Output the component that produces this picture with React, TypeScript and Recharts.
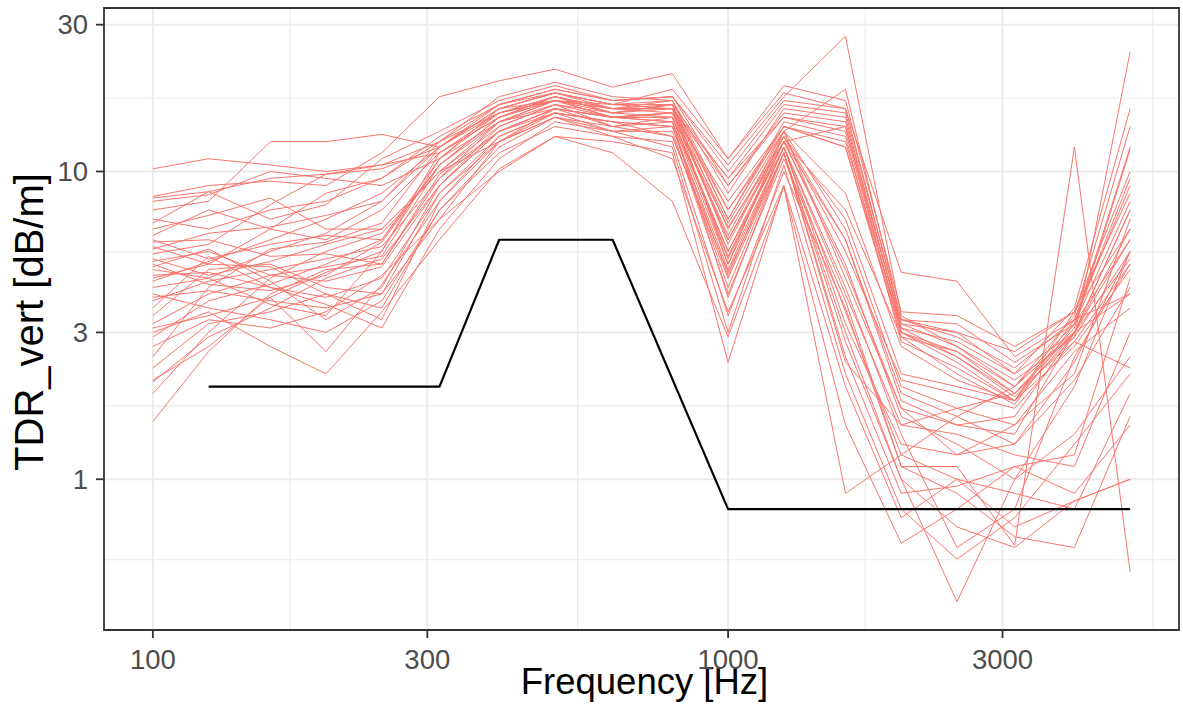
import React from 'react';
import { LineChart, Line, XAxis, YAxis, CartesianGrid, ReferenceArea } from 'recharts';

// Third-octave band centre frequencies [Hz]
const frequencies = [100, 125, 160, 200, 250, 315, 400, 500, 630, 800, 1000, 1250, 1600, 2000, 2500, 3150, 4000, 5000];

// Measured TDR_vert curves [dB/m] (one value per band)
const s01 = [10.2, 11.0, 10.5, 10.0, 10.5, 12.5, 15.5, 17.0, 15.5, 16.0, 9.5, 15.0, 13.5, 3.0, 2.6, 2.0, 3.0, 7.5];
const s02 = [8.2, 8.6, 9.5, 9.8, 10.2, 12.0, 16.0, 18.0, 16.5, 18.5, 11.0, 18.0, 16.0, 3.3, 2.9, 2.3, 3.3, 9.0];
const s03 = [8.0, 8.4, 10.0, 9.5, 9.0, 11.0, 14.5, 16.0, 15.0, 15.5, 8.0, 14.0, 12.5, 3.1, 2.5, 1.9, 3.0, 6.5];
const s04 = [6.8, 8.6, 7.0, 7.8, 11.0, 13.5, 17.0, 19.0, 17.0, 17.5, 10.5, 17.5, 27.5, 3.4, 2.7, 2.1, 2.9, 5.5];
const s05 = [6.2, 7.5, 6.5, 8.5, 9.5, 13.0, 16.5, 18.0, 16.0, 17.0, 7.5, 13.5, 18.5, 3.3, 3.2, 2.4, 3.2, 12.0];
const s06 = [5.7, 5.0, 6.5, 6.0, 7.5, 11.5, 15.0, 17.5, 15.5, 16.5, 6.5, 13.0, 5.5, 2.1, 1.9, 1.7, 2.8, 5.0];
const s07 = [5.6, 6.3, 6.6, 7.2, 8.0, 12.0, 16.0, 17.0, 16.0, 16.0, 6.0, 12.5, 14.0, 3.0, 2.4, 1.8, 3.5, 10.0];
const s08 = [5.2, 4.6, 5.1, 5.8, 6.5, 10.0, 14.0, 16.5, 14.0, 14.5, 5.0, 12.0, 4.0, 1.5, 1.4, 1.2, 1.1, 3.0];
const s09 = [5.1, 5.5, 4.6, 4.4, 4.9, 9.0, 13.5, 16.0, 15.0, 15.0, 5.5, 12.5, 7.5, 2.9, 2.2, 1.75, 3.2, 8.0];
const s10 = [4.8, 4.5, 5.5, 6.3, 8.0, 12.5, 17.5, 19.5, 17.5, 17.0, 8.5, 16.0, 15.0, 3.1, 2.8, 2.2, 3.6, 16.0];
const s11 = [4.6, 4.7, 4.2, 3.9, 4.5, 8.5, 13.0, 15.5, 14.5, 14.0, 4.8, 12.0, 3.5, 1.2, 1.0, 0.9, 0.8, 1.9];
const s12 = [4.2, 4.5, 3.7, 3.4, 5.5, 11.0, 15.5, 17.0, 15.0, 15.5, 6.0, 13.0, 6.0, 1.9, 1.6, 1.3, 2.4, 5.5];
const s13 = [4.0, 3.6, 3.3, 3.0, 3.8, 7.5, 12.0, 15.0, 14.0, 13.0, 4.5, 11.5, 3.0, 1.0, 0.7, 0.6, 0.85, 1.0];
const s14 = [3.8, 4.4, 4.8, 5.2, 5.7, 9.5, 14.5, 17.0, 16.0, 16.0, 5.0, 13.5, 4.5, 1.7, 1.5, 1.6, 3.0, 4.0];
const s15 = [3.4, 4.8, 5.0, 4.2, 4.0, 7.0, 12.5, 16.0, 15.0, 14.5, 3.9, 11.5, 2.5, 0.9, 0.95, 1.1, 1.2, 4.5];
const s16 = [3.2, 4.0, 4.6, 4.9, 5.3, 10.5, 15.0, 17.5, 15.5, 16.5, 5.8, 13.0, 7.0, 2.2, 2.0, 1.8, 3.0, 6.0];
const s17 = [2.9, 3.8, 4.3, 5.0, 6.0, 11.0, 16.0, 18.0, 16.5, 17.0, 7.0, 14.5, 13.0, 2.8, 2.3, 1.8, 3.3, 9.5];
const s18 = [2.5, 4.2, 5.6, 5.9, 6.8, 12.0, 16.5, 18.5, 17.0, 17.5, 9.0, 15.5, 14.5, 3.2, 2.7, 2.0, 3.4, 14.0];
const s19 = [2.3, 3.2, 3.5, 4.0, 3.3, 8.0, 13.0, 15.5, 14.5, 14.0, 4.6, 12.0, 3.2, 1.3, 1.2, 1.5, 2.6, 3.6];
const s20 = [2.07, 2.9, 3.6, 4.5, 5.2, 9.0, 14.0, 16.5, 15.5, 15.0, 5.2, 12.5, 5.0, 1.6, 1.3, 1.0, 1.4, 2.5];
const s21 = [1.9, 3.0, 4.5, 5.5, 6.3, 10.0, 14.5, 17.0, 15.0, 15.5, 6.2, 13.5, 6.5, 2.0, 1.7, 1.5, 2.2, 7.0];
const s22 = [1.54, 2.6, 4.0, 4.8, 5.0, 9.5, 13.5, 16.0, 15.0, 14.5, 5.5, 12.0, 4.2, 1.4, 0.6, 0.8, 2.5, 5.0];
const s23 = [7.0, 6.5, 7.5, 8.0, 9.5, 12.5, 16.5, 18.5, 17.0, 17.5, 10.0, 17.0, 16.0, 4.7, 4.4, 2.5, 3.3, 4.0];
const s24 = [5.4, 5.8, 7.8, 9.8, 10.5, 11.5, 15.0, 17.0, 16.5, 16.0, 9.0, 15.0, 14.0, 3.2, 3.0, 2.6, 3.5, 6.5];
const s25 = [4.4, 5.1, 6.0, 7.0, 8.5, 12.0, 16.0, 18.0, 16.5, 16.5, 7.0, 14.0, 12.0, 2.9, 2.6, 1.9, 3.1, 11.8];
const s26 = [3.6, 5.3, 4.2, 3.7, 3.1, 6.5, 11.0, 14.5, 13.5, 12.0, 3.0, 10.5, 2.2, 0.8, 0.55, 0.75, 1.3, 2.2];
const s27 = [3.1, 3.4, 3.9, 2.6, 4.3, 8.0, 12.5, 15.5, 13.5, 13.5, 4.0, 11.0, 3.8, 1.1, 0.9, 0.65, 0.6, 1.6];
const s28 = [4.9, 5.6, 4.4, 3.3, 4.2, 9.0, 13.5, 15.5, 14.5, 13.0, 4.7, 11.5, 2.8, 1.0, 0.4, 1.0, 2.0, 5.5];
const s29 = [5.9, 6.0, 5.3, 5.4, 5.0, 9.8, 13.5, 16.0, 14.0, 15.0, 5.3, 12.5, 6.0, 1.8, 1.5, 1.4, 3.0, 7.5];
const s30 = [6.5, 7.2, 8.2, 6.5, 6.5, 10.0, 12.5, 15.0, 13.0, 11.0, 3.5, 9.0, 0.9, 1.2, 1.6, 2.0, 3.2, 6.0];
const s31 = [2.7, 3.3, 3.1, 3.5, 4.6, 7.0, 10.0, 13.0, 12.5, 11.5, 2.4, 9.0, 2.0, 0.75, 1.0, 0.7, 0.85, 1.0];
const s32 = [4.5, 5.0, 4.9, 4.0, 3.6, 7.5, 11.5, 14.0, 13.0, 12.5, 3.4, 10.0, 3.6, 1.1, 1.1, 0.61, 12.0, 0.5];
const s33 = [3.9, 4.1, 3.8, 3.6, 4.0, 8.5, 12.5, 15.0, 13.5, 14.0, 4.2, 11.5, 2.4, 1.5, 1.7, 1.9, 2.8, 2.3];
const s34 = [5.0, 4.3, 4.1, 4.6, 5.9, 10.5, 15.0, 17.0, 16.0, 15.5, 6.8, 13.5, 8.5, 2.7, 2.1, 1.8, 2.7, 4.8];
const s35 = [2.1, 2.7, 3.9, 4.7, 5.5, 11.5, 15.5, 17.5, 16.0, 16.0, 7.5, 14.0, 12.0, 3.0, 2.5, 1.85, 2.9, 24.5];
const s36 = [6.0, 5.2, 5.8, 6.2, 6.0, 10.5, 14.5, 16.5, 15.0, 15.0, 6.6, 12.5, 4.8, 1.7, 1.2, 1.3, 2.1, 4.2];
const s37 = [8.3, 9.0, 9.3, 9.0, 11.5, 17.5, 19.7, 21.5, 18.8, 20.8, 11.0, 19.0, 17.0, 3.5, 3.4, 2.7, 3.5, 8.5];
const s38 = [3.0, 3.5, 2.7, 2.2, 3.5, 6.0, 10.2, 13.0, 11.5, 8.0, 2.9, 8.9, 1.5, 0.62, 0.8, 1.1, 0.9, 1.5];
const s39 = [7.5, 8.0, 12.5, 12.5, 13.2, 12.0, 15.5, 17.5, 16.0, 16.5, 9.5, 16.5, 15.5, 3.3, 3.0, 2.2, 3.0, 5.2];

const redSeries = [s01, s02, s03, s04, s05, s06, s07, s08, s09, s10, s11, s12, s13, s14, s15, s16, s17, s18, s19, s20,
  s21, s22, s23, s24, s25, s26, s27, s28, s29, s30, s31, s32, s33, s34, s35, s36, s37, s38, s39];

// Requirement (limit) curve
const limitFrequencies = [125, 315, 400, 630, 1000, 5000];
const limitValues = [2, 2, 6, 6, 0.8, 0.8];

// Axis ticks and grid
const xTicks = [100, 300, 1000, 3000];
const yTicks = [1, 3, 10, 30];
const xMinorGrid = [173.2, 547.7, 1732, 5477];
const yMinorGrid = [0.5477, 1.732, 5.477, 17.32];

const chartData = frequencies.map((f, i) => {
  const row: Record<string, number> = { f };
  redSeries.forEach((s, k) => { row['s' + k] = s[i]; });
  return row;
});
const limitData = limitFrequencies.map((f, i) => ({ f, limit: limitValues[i] }));

function expandLog(min: number, max: number): [number, number] {
  const lo = Math.log10(min);
  const hi = Math.log10(max);
  const pad = (hi - lo) * 0.05;
  return [Math.pow(10, lo - pad), Math.pow(10, hi + pad)];
}
const xDomain = expandLog(Math.min(...frequencies), Math.max(...frequencies));
const allValues = redSeries.flat().concat(limitValues);
const yDomain = expandLog(Math.min(...allValues), Math.max(...allValues));

const FONT = '"Liberation Sans", Arial, Helvetica, sans-serif';

const XTitle = (props: any) => {
  const vb = props.viewBox || { x: 104, y: 630, width: 1075, height: 92 };
  return (
    <text x={vb.x + vb.width / 2 + 3} y={vb.y + 64} textAnchor="middle" fontSize={36.5} fontFamily={FONT} fill="#000000">
      Frequency [Hz]
    </text>
  );
};

const YTitle = (props: any) => {
  const vb = props.viewBox || { x: 0, y: 8, width: 104, height: 622 };
  const cx = vb.x + 43;
  const cy = vb.y + vb.height / 2 + 3;
  return (
    <text x={cx} y={cy} transform={`rotate(-90 ${cx} ${cy})`} textAnchor="middle" fontSize={40} fontFamily={FONT} fill="#000000">
      TDR_vert [dB/m]
    </text>
  );
};

const fmt = (v: number) => String(v);

export default function App() {
  return (
    <div style={{ position: 'absolute', left: 0, top: 0, width: 1183, height: 722, background: '#ffffff' }}>
      <LineChart width={1183} height={722} data={chartData} margin={{ top: 8, right: 4, bottom: 0, left: 0 }}>
        <CartesianGrid stroke="#ebebeb" strokeWidth={1.1} horizontalValues={yMinorGrid} verticalValues={xMinorGrid} fill="none" />
        <CartesianGrid stroke="#ebebeb" strokeWidth={2} horizontalValues={yTicks} verticalValues={xTicks} fill="none" />
        <XAxis
          dataKey="f"
          type="number"
          scale="log"
          domain={xDomain}
          allowDataOverflow
          ticks={xTicks}
          tickFormatter={fmt}
          height={92}
          tickSize={8}
          tickMargin={11}
          axisLine={false}
          tickLine={{ stroke: '#333333', strokeWidth: 1.8 }}
          tick={{ fill: '#4d4d4d', fontSize: 27.5, fontFamily: FONT }}
          interval={0}
          label={{ content: XTitle }}
        />
        <YAxis
          type="number"
          scale="log"
          domain={yDomain}
          allowDataOverflow
          ticks={yTicks}
          tickFormatter={fmt}
          width={104}
          tickSize={8}
          tickMargin={8}
          axisLine={false}
          tickLine={{ stroke: '#333333', strokeWidth: 1.8 }}
          tick={{ fill: '#4d4d4d', fontSize: 27.5, fontFamily: FONT }}
          interval={0}
          label={{ content: YTitle }}
        />
        {redSeries.map((_, k) => (
          <Line
            key={'s' + k}
            dataKey={'s' + k}
            stroke="#F8766D"
            strokeWidth={1}
            strokeLinejoin="round"
            dot={false}
            activeDot={false}
            isAnimationActive={false}
          />
        ))}
        <Line
          data={limitData}
          dataKey="limit"
          stroke="#000000"
          strokeWidth={2.2}
          strokeLinejoin="round"
          dot={false}
          activeDot={false}
          isAnimationActive={false}
        />
        <ReferenceArea
          x1={xDomain[0]}
          x2={xDomain[1]}
          y1={yDomain[0]}
          y2={yDomain[1]}
          fill="none"
          stroke="#333333"
          strokeWidth={1.8}
          ifOverflow="visible"
        />
      </LineChart>
    </div>
  );
}
